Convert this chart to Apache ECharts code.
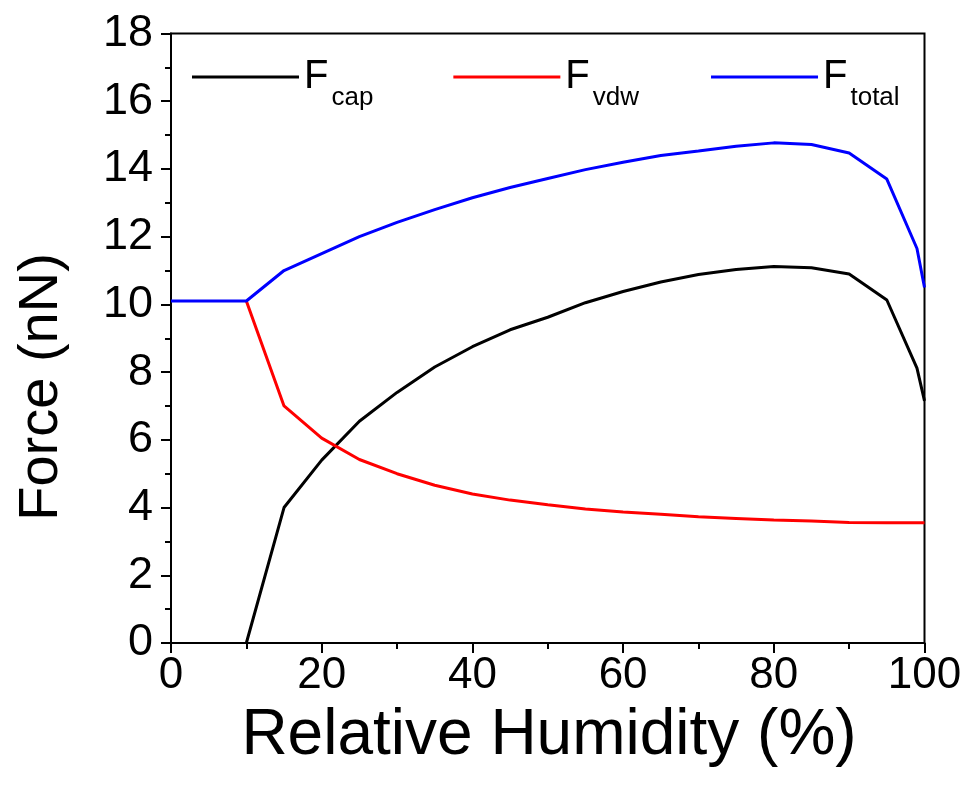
<!DOCTYPE html>
<html>
<head>
<meta charset="utf-8">
<script src="https://cdn.jsdelivr.net/npm/echarts@6/dist/echarts.min.js"></script>
<style>
html,body{margin:0;padding:0;background:#fff;}
#c{width:967px;height:794px;}
</style>
</head>
<body>
<div id="c"></div>
<script>
// Relative humidity (%)
const rhCap = [10, 15, 20, 25, 30, 35, 40, 45, 50, 55, 60, 65, 70, 75, 80, 85, 90, 95, 99, 100];
const fCap  = [0, 4.0, 5.4, 6.55, 7.4, 8.15, 8.75, 9.25, 9.62, 10.05, 10.38, 10.66, 10.88, 11.03, 11.12, 11.08, 10.9, 10.13, 8.12, 7.15];
const rhVdw = [10, 15, 20, 25, 30, 35, 40, 45, 50, 55, 60, 65, 70, 75, 80, 85, 90, 95, 99, 100];
const fVdw  = [10.1, 7.0, 6.05, 5.42, 5.0, 4.66, 4.4, 4.22, 4.08, 3.96, 3.87, 3.8, 3.73, 3.68, 3.63, 3.6, 3.56, 3.55, 3.55, 3.55];
const rhTot = [0, 10, 15, 20, 25, 30, 35, 40, 45, 50, 55, 60, 65, 70, 75, 80, 85, 90, 95, 99, 100];
const fTot  = [10.1, 10.1, 11.0, 11.5, 12.0, 12.42, 12.8, 13.15, 13.45, 13.72, 13.98, 14.2, 14.4, 14.53, 14.67, 14.77, 14.72, 14.47, 13.7, 11.65, 10.5];
const seriesNames = ['cap', 'vdw', 'total'];
const xTitle = 'Relative Humidity (%)';
const yTitle = 'Force (nN)';

const pair = (xs, ys) => xs.map((x, i) => [x, ys[i]]);
const FONT = '"Liberation Sans", Arial, sans-serif';

const chart = echarts.init(document.getElementById('c'), null, {renderer: 'canvas'});
const mk = (name, xs, ys, color) => ({
  name: name, type: 'line', data: pair(xs, ys), symbol: 'none', smooth: false,
  lineStyle: {color: color, width: 3}, itemStyle: {color: color}
});
chart.setOption({
  backgroundColor: '#fff',
  animation: false,
  grid: {left: 171, right: 42.5, top: 33.5, bottom: 151, show: true, borderColor: '#000', borderWidth: 2},
  legend: {
    left: 187, top: 52, itemWidth: 107, itemHeight: 14, itemGap: 72,
    icon: 'path://M0,5.5 L107,5.5 L107,8.5 L0,8.5 Z',
    data: seriesNames,
    formatter: n => '{m|F}{' + (n === 'cap' ? 's1' : 's') + '|' + n + '}',
    textStyle: {
      fontFamily: FONT, color: '#000',
      rich: {
        m: {fontSize: 40, lineHeight: 40, fontFamily: FONT, verticalAlign: 'top', padding: [0, 0, 0, 0]},
        s: {fontSize: 26, lineHeight: 26, fontFamily: FONT, verticalAlign: 'top', padding: [28, 0, 0, 3]},
        s1: {fontSize: 26, lineHeight: 26, fontFamily: FONT, verticalAlign: 'top', padding: [28, 8, 0, 3]}
      }
    }
  },
  xAxis: {
    type: 'value', min: 0, max: 100, interval: 20,
    axisLine: {lineStyle: {color: '#000', width: 2}},
    axisTick: {show: true, inside: false, length: 10, lineStyle: {color: '#000', width: 2}},
    minorTick: {show: true, splitNumber: 2, length: 6, lineStyle: {color: '#000', width: 2}},
    splitLine: {show: false},
    axisLabel: {fontSize: 44, color: '#000', fontFamily: FONT, margin: 11}
  },
  yAxis: {
    type: 'value', min: 0, max: 18, interval: 2,
    axisLine: {lineStyle: {color: '#000', width: 2}},
    axisTick: {show: true, inside: false, length: 10, lineStyle: {color: '#000', width: 2}},
    minorTick: {show: true, splitNumber: 2, length: 6, lineStyle: {color: '#000', width: 2}},
    splitLine: {show: false},
    axisLabel: {fontSize: 45, color: '#000', fontFamily: FONT, margin: 18}
  },
  graphic: [
    {type: 'text', x: 549, y: 704, style: {text: xTitle, font: '64px ' + FONT, fill: '#000', textAlign: 'center', textVerticalAlign: 'top'}},
    {type: 'text', x: 42, y: 387, rotation: Math.PI / 2, style: {text: yTitle, font: '56px ' + FONT, fill: '#000', textAlign: 'center', textVerticalAlign: 'middle'}}
  ],
  series: [
    mk('cap', rhCap, fCap, '#000000'),
    mk('vdw', rhVdw, fVdw, '#ff0000'),
    mk('total', rhTot, fTot, '#0000ff')
  ]
});
</script>
</body>
</html>
